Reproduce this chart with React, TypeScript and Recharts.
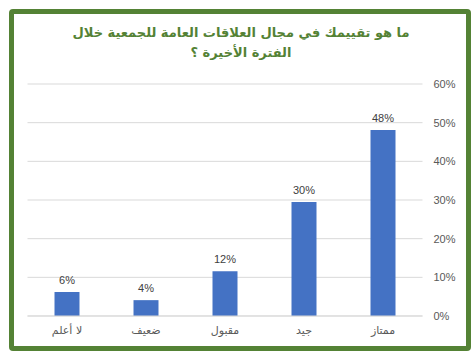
import React from 'react';
import { BarChart, Bar, XAxis, YAxis, CartesianGrid, LabelList } from 'recharts';

const categories = ['لا أعلم', 'ضعيف', 'مقبول', 'جيد', 'ممتاز'];
const values = [6.2, 4.1, 11.6, 29.5, 48.1];
const yTicks = [0, 10, 20, 30, 40, 50, 60];
const titleLine1 = 'ما هو تقييمك في مجال العلاقات العامة للجمعية خلال';
const titleLine2 = 'الفترة الأخيرة ؟';

const data = categories.map((c, i) => ({ name: c, value: values[i] }));

export default function App() {
  return (
    <div style={{ position: 'fixed', left: 0, top: 0, width: 475, height: 361, background: '#fff' }}>
      <div
        style={{
          position: 'absolute',
          left: 9,
          top: 9,
          width: 462,
          height: 342,
          boxSizing: 'border-box',
          border: '5px solid #548235',
          borderRadius: 4,
        }}
      />
      <div
        style={{
          position: 'absolute',
          left: 0,
          width: 482,
          top: 23,
          textAlign: 'center',
          direction: 'rtl',
          fontFamily: '"DejaVu Sans", sans-serif',
          fontWeight: 'bold',
          fontSize: 13,
          lineHeight: '20px',
          color: '#548235',
        }}
      >
        <div>{titleLine1}</div>
        <div>{titleLine2}</div>
      </div>
      <div style={{ position: 'absolute', left: 0, top: 0 }}>
        <BarChart
          width={475}
          height={361}
          data={data}
          margin={{ top: 84, right: 12.5, bottom: 15, left: 27.5 }}
        >
          <CartesianGrid vertical={false} stroke="#d9d9d9" />
          <XAxis
            dataKey="name"
            axisLine={{ stroke: '#d9d9d9' }}
            tickLine={false}
            height={30}
            tickMargin={4}
            tick={{ fill: '#595959', fontSize: 11, fontFamily: '"DejaVu Sans", sans-serif' }}
            interval={0}
          />
          <YAxis
            orientation="right"
            width={40}
            domain={[0, 60]}
            ticks={yTicks}
            axisLine={false}
            tickLine={false}
            tickMargin={5}
            tickFormatter={(v: number) => `${v}%`}
            tick={{ fill: '#595959', fontSize: 11, fontFamily: '"Liberation Sans", sans-serif', textAnchor: 'start' }}
          />
          <Bar dataKey="value" fill="#4472c4" barSize={25} isAnimationActive={false}>
            <LabelList
              dataKey="value"
              position="top"
              offset={8}
              formatter={(v: number) => `${Math.round(v)}%`}
              style={{ fill: '#404040', fontSize: 11, fontFamily: '"Liberation Sans", sans-serif' }}
            />
          </Bar>
        </BarChart>
      </div>
    </div>
  );
}
